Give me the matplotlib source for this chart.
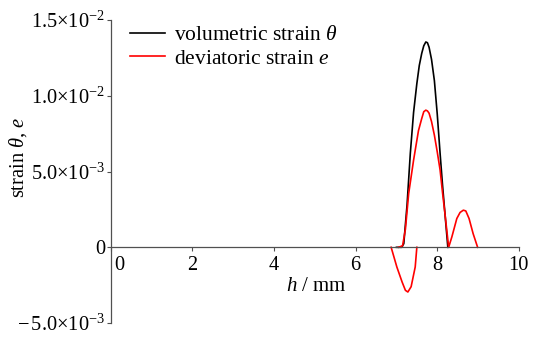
import numpy as np
import matplotlib
matplotlib.use("Agg")
import matplotlib.pyplot as plt
from matplotlib.transforms import ScaledTranslation

plt.rcParams['font.family'] = ['Liberation Serif', 'DejaVu Serif']
plt.rcParams['mathtext.fontset'] = 'custom'
plt.rcParams['mathtext.rm'] = 'Liberation Serif'
plt.rcParams['mathtext.it'] = 'Liberation Serif:italic'
plt.rcParams['mathtext.bf'] = 'Liberation Serif:bold'

# volumetric strain theta
h_vol = [7.00, 7.13, 7.18, 7.26, 7.34, 7.42, 7.50, 7.56, 7.62, 7.67, 7.72, 7.76, 7.80, 7.86,
         7.93, 8.00, 8.07, 8.13, 8.19, 8.26]
theta = [0.0, 0.0, 0.24e-3, 2.8e-3, 6.2e-3, 8.9e-3, 10.8e-3, 12.0e-3, 12.8e-3, 13.3e-3,
         13.55e-3, 13.5e-3, 13.2e-3, 12.4e-3, 11.0e-3, 8.8e-3, 6.2e-3, 4.1e-3, 2.2e-3, 0.0]

# deviatoric strain e (negative dip, then positive part)
h_dev = [6.87, 7.01, 7.14, 7.22, 7.28, 7.36, 7.46, 7.50, np.nan,
         7.05, 7.15, 7.22, 7.30, 7.42, 7.54, 7.62, 7.67, 7.72, 7.76, 7.80, 7.86, 7.93,
         8.00, 8.07, 8.13, 8.19, 8.28, 8.36, 8.48, 8.56, 8.64, 8.70, 8.78, 8.88, 8.99]
e_dev = [0.0, -1.3e-3, -2.3e-3, -2.84e-3, -2.95e-3, -2.6e-3, -1.3e-3, 0.0, np.nan,
         0.0, 0.1e-3, 1.2e-3, 3.55e-3, 5.75e-3, 7.7e-3, 8.5e-3, 8.95e-3, 9.05e-3, 9.0e-3,
         8.85e-3, 8.3e-3, 7.4e-3, 6.3e-3, 5.1e-3, 3.6e-3, 2.2e-3, 0.0, 0.7e-3, 1.9e-3,
         2.3e-3, 2.45e-3, 2.4e-3, 1.9e-3, 0.9e-3, 0.0]

xticks = [0, 2, 4, 6, 8, 10]
yticks = [-5e-3, 0, 5e-3, 1e-2, 1.5e-2]
yticklabels = [r'$-\,5.0{\times}10^{-3}$', '0', r'$5.0{\times}10^{-3}$',
               r'$1.0{\times}10^{-2}$', r'$1.5{\times}10^{-2}$']

fig = plt.figure(figsize=(5.41, 3.39), dpi=100)
ax = fig.add_axes([0.205, 0.047, 0.754, 0.894])

ax.plot(h_vol, theta, color='black', lw=1.2, label=r'volumetric strain $\theta$')
ax.plot(h_dev, e_dev, color='#ff0000', lw=1.2, label=r'deviatoric strain $e$')

ax.set_xlim(0, 10)
ax.set_ylim(-5e-3, 1.5e-2)
ax.spines['top'].set_visible(False)
ax.spines['right'].set_visible(False)
ax.spines['bottom'].set_position(('data', 0))
for s in ('left', 'bottom'):
    ax.spines[s].set_color('#505050')
    ax.spines[s].set_linewidth(0.9)

ax.set_xticks(xticks)
ax.set_xticklabels([str(t) for t in xticks])
ax.set_yticks(yticks)
ax.set_yticklabels(yticklabels)
ax.tick_params(axis='both', labelsize=14.7, color='#505050', width=0.8, length=3, direction='out')
ax.tick_params(axis='y', pad=1)
ax.tick_params(axis='x', pad=3)

# shift the x "0" label to the right
lab0 = ax.get_xticklabels()[0]
lab0.set_transform(lab0.get_transform() + ScaledTranslation(0.08, 0, fig.dpi_scale_trans))

ax.text(0.504, 0.12, r'$h$ / mm', transform=ax.transAxes, ha='center', va='center', fontsize=15)
ax.set_ylabel(r'strain $\theta$, $e$', fontsize=14.7)
ax.yaxis.set_label_coords(-0.227, 0.545)
ax.yaxis.label.set_va('center')

ax.legend(loc='upper left', bbox_to_anchor=(0.047, 0.983), frameon=False, fontsize=15.5,
          handlelength=1.6, handletextpad=0.45, borderpad=0, borderaxespad=0,
          labelspacing=0.15)

fig.savefig('out.png', dpi=100)
